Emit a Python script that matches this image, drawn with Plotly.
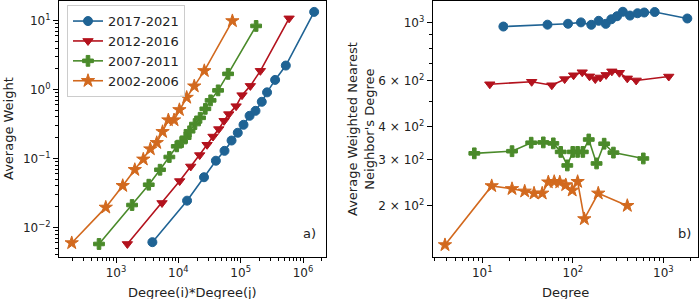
import plotly.graph_objects as go

# ---------------- data: panel a) ----------------
a_labels = ["2017-2021", "2012-2016", "2007-2011", "2002-2006"]
a_x_2017 = [3830, 13800, 25800, 40000, 55000, 71400, 89800, 111000, 139000, 173000, 218000, 265000, 357000, 530000, 1510000]
a_y_2017 = [0.0061, 0.0244, 0.0534, 0.0927, 0.129, 0.182, 0.236, 0.308, 0.416, 0.491, 0.664, 0.91, 1.38, 2.23, 13.4]
a_x_2012 = [1520, 5470, 10500, 15800, 22000, 28900, 36000, 44500, 54200, 64400, 84400, 105000, 143000, 207000, 598000]
a_y_2012 = [0.00574, 0.0226, 0.047, 0.0766, 0.112, 0.158, 0.208, 0.267, 0.352, 0.44, 0.574, 0.83, 1.13, 1.87, 10.8]
a_x_2007 = [533, 1810, 3350, 5080, 7170, 9430, 11300, 13100, 15100, 18500, 22300, 27100, 32900, 43400, 62800, 177000]
a_y_2007 = [0.00574, 0.0211, 0.0416, 0.0686, 0.105, 0.150, 0.173, 0.200, 0.248, 0.316, 0.389, 0.525, 0.697, 0.973, 1.69, 8.38]
a_x_2002 = [194.5, 684, 1280, 2000, 2740, 3550, 4500, 5580, 6910, 8530, 10400, 13600, 18000, 26100, 73600]
a_y_2002 = [0.00594, 0.0195, 0.0402, 0.0686, 0.0973, 0.137, 0.169, 0.244, 0.361, 0.361, 0.508, 0.766, 1.12, 1.87, 9.9]

# ---------------- data: panel b) ----------------
b_x_2017 = [17.1, 52.5, 88.5, 123, 160, 193, 231, 266, 308, 357, 428, 519, 615, 803, 1841]
b_y_2017 = [967, 983, 991, 1003, 982, 1017, 990, 1031, 1059, 1101, 1065, 1087, 1094, 1099, 1038]
b_x_2012 = [12.1, 35.1, 58.6, 81.3, 102, 127, 153, 177, 201, 233, 270, 327, 400, 501, 1148]
b_y_2012 = [582, 595, 577, 609, 630, 647, 624, 609, 618, 632, 652, 644, 613, 602, 623]
b_x_2007 = [8.16, 21.3, 34.7, 47.2, 60.9, 73.5, 86.9, 99.8, 113, 129, 150, 183, 222, 281, 601]
b_y_2007 = [317, 323, 348, 349, 346, 321, 285, 321, 321, 321, 358, 290, 345, 319, 303]
b_x_2002 = [3.87, 12.7, 21.3, 29.4, 37.3, 45.9, 53.6, 62.3, 71.8, 83.5, 98.4, 113, 134, 191, 400]
b_y_2002 = [141.6, 238, 232, 227, 223, 223, 246, 247, 246, 240, 229, 247, 178, 223, 200]

# ---------------- tick labels ----------------
a_xtick_vals = [1e3, 1e4, 1e5, 1e6]
a_xtick_text = ["10<sup>3</sup>", "10<sup>4</sup>", "10<sup>5</sup>", "10<sup>6</sup>"]
a_ytick_vals = [1e-2, 1e-1, 1e0, 1e1]
a_ytick_text = ["10<sup>−2</sup>", "10<sup>−1</sup>", "10<sup>0</sup>", "10<sup>1</sup>"]
b_xtick_vals = [10, 100, 1000]
b_xtick_text = ["10<sup>1</sup>", "10<sup>2</sup>", "10<sup>3</sup>"]
b_ytick_vals = [200, 300, 400, 600, 1000]
b_ytick_text = ["2 × 10<sup>2</sup>", "3 × 10<sup>2</sup>", "4 × 10<sup>2</sup>", "6 × 10<sup>2</sup>", "10<sup>3</sup>"]


def minor_vals(lo, hi):
    out = []
    for e in range(lo, hi + 1):
        for m in range(2, 10):
            out.append(m * 10.0 ** e)
    return out


colors = ["#1f6394", "#b3121d", "#4a8a2a", "#d2691e"]
symbols = ["circle", "triangle-down", "cross", "star"]
sizes = [9, 9, 9, 10]

a_xs = [a_x_2017, a_x_2012, a_x_2007, a_x_2002]
a_ys = [a_y_2017, a_y_2012, a_y_2007, a_y_2002]
b_xs = [b_x_2017, b_x_2012, b_x_2007, b_x_2002]
b_ys = [b_y_2017, b_y_2012, b_y_2007, b_y_2002]

fig = go.Figure()
for i in range(4):
    fig.add_trace(go.Scatter(
        x=a_xs[i], y=a_ys[i], mode="lines+markers", name=a_labels[i],
        line=dict(color=colors[i], width=1.6),
        marker=dict(symbol=symbols[i], size=sizes[i], color=colors[i],
                    line=dict(color=colors[i], width=1)),
        xaxis="x", yaxis="y", showlegend=True))
for i in range(4):
    fig.add_trace(go.Scatter(
        x=b_xs[i], y=b_ys[i], mode="lines+markers", name=a_labels[i],
        line=dict(color=colors[i], width=1.6),
        marker=dict(symbol=symbols[i], size=sizes[i], color=colors[i],
                    line=dict(color=colors[i], width=1)),
        xaxis="x2", yaxis="y2", showlegend=False))

FONT = "DejaVu Sans"
tickfont = dict(family=FONT, size=12, color="#222")
titlefont = dict(family=FONT, size=13, color="#222")
axis_common = dict(type="log", showgrid=False, zeroline=False, showline=True,
                   linecolor="black", linewidth=1, mirror=True, ticks="outside",
                   ticklen=5, tickwidth=1, tickcolor="black", tickfont=tickfont,
                   tickmode="array", automargin=False)
minor_common = dict(tickmode="array", ticks="outside", ticklen=3,
                    tickcolor="black", tickwidth=0.8)

fig.update_layout(
    width=700, height=299,
    margin=dict(l=0, r=0, t=1, b=42),
    paper_bgcolor="white", plot_bgcolor="white",
    font=dict(family=FONT, size=13, color="#222"),
    xaxis=dict(axis_common, domain=[59 / 700, 326 / 700], range=[2.085, 6.369],
               tickvals=a_xtick_vals, ticktext=a_xtick_text,
               minor=dict(minor_common, tickvals=minor_vals(2, 6)),
               anchor="y"),
    yaxis=dict(axis_common, domain=[0, 1], range=[-2.43, 1.285],
               tickvals=a_ytick_vals, ticktext=a_ytick_text,
               minor=dict(minor_common, tickvals=minor_vals(-3, 1)),
               anchor="x"),
    xaxis2=dict(axis_common, domain=[432.7 / 700, 698 / 700], range=[0.452, 3.383],
                tickvals=b_xtick_vals, ticktext=b_xtick_text,
                minor=dict(minor_common, tickvals=minor_vals(0, 3)),
                anchor="y2"),
    yaxis2=dict(axis_common, domain=[0, 1], range=[2.105, 3.083],
                tickvals=b_ytick_vals, ticktext=b_ytick_text,
                minor=dict(minor_common, tickvals=[500, 700, 800, 900]),
                anchor="x2"),
    legend=dict(x=67 / 700, y=0.984, xanchor="left", yanchor="top",
                bgcolor="rgba(255,255,255,0.85)", bordercolor="#cccccc", borderwidth=1,
                font=dict(family=FONT, size=13, color="#222")),
    annotations=[
        dict(text="a)", x=0.97, y=0.09, xref="x domain", yref="y domain",
             xanchor="right", yanchor="middle", showarrow=False, font=titlefont),
        dict(text="b)", x=0.98, y=0.09, xref="x2 domain", yref="y2 domain",
             xanchor="right", yanchor="middle", showarrow=False, font=titlefont),
        # axis titles
        dict(text="Degree(i)*Degree(j)", x=0.5, y=292, xref="x domain", yref="paper",
             showarrow=False, font=titlefont, xanchor="center", yanchor="middle"),
        dict(text="Degree", x=0.5, y=292, xref="x2 domain", yref="paper",
             showarrow=False, font=titlefont, xanchor="center", yanchor="middle"),
        dict(text="Average Weight", x=8 / 700, y=0.5, xref="paper", yref="paper",
             textangle=-90, showarrow=False, font=titlefont, xanchor="center", yanchor="middle"),
        dict(text="Average Weighted Nearest<br>Neighbor's Degree", x=361 / 700, y=0.5,
             xref="paper", yref="paper", textangle=-90, showarrow=False, font=titlefont,
             xanchor="center", yanchor="middle"),
    ],
)

# convert pixel y of bottom titles to paper coordinates (plot area spans px 1..257)
for ann in fig.layout.annotations:
    if ann.yref == "paper" and ann.y is not None and ann.y > 2:
        ann.y = (257 - ann.y) / 256.0

fig.write_html("out.html", config={"displayModeBar": False},
               post_script="document.body.style.margin='0';document.body.style.overflow='hidden';")
